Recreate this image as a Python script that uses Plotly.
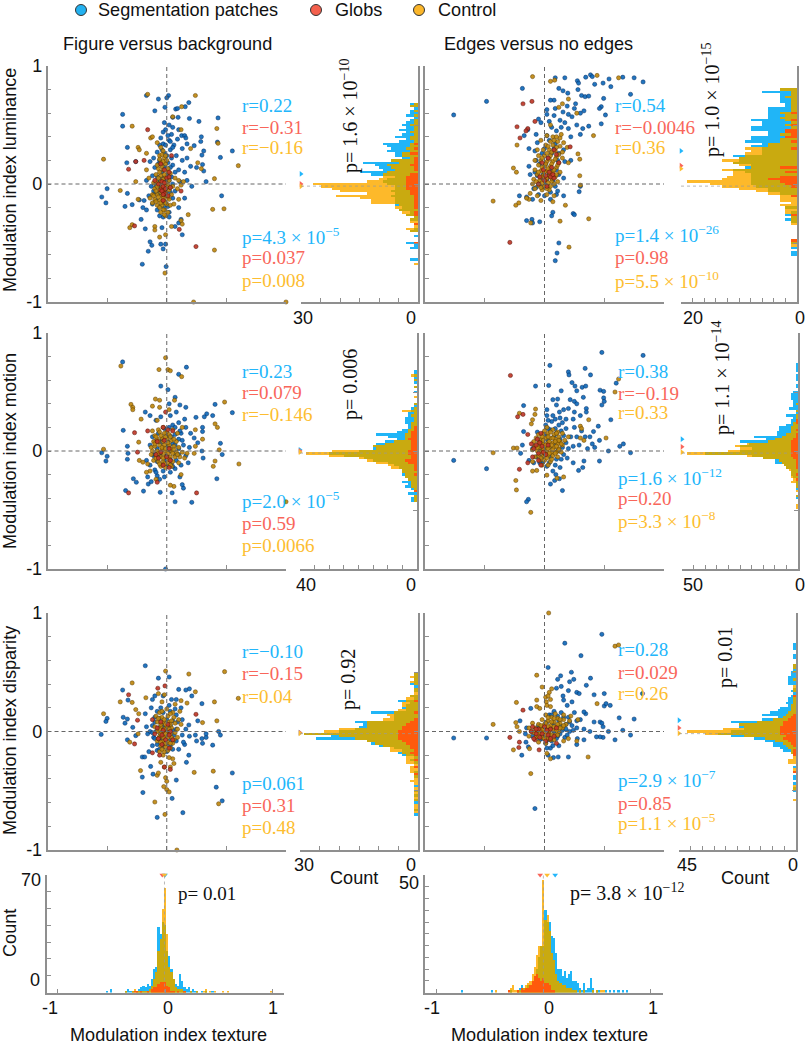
import plotly.graph_objects as go

# ---------------- labels ----------------
series_names = ["Segmentation patches", "Globs", "Control"]
row_labels = ["Modulation index luminance", "Modulation index motion", "Modulation index disparity"]
col_titles = ["Figure versus background", "Edges versus no edges"]

# ---------------- scatter values (texture index, other index) ----------------
s11_b = [(-.37,.59),(-.37,.49),(-.33,.31),(-.335,.18),(-.26,.19),(-.545,-.11),(-.50,-.04),(-.51,-.16),(-.35,-.19),(-.33,-.08),(-.29,-.175),(-.23,-.135),(-.215,-.30),(-.18,-.38),(-.155,-.57),(-.14,-.49),(-.125,-.52),(-.05,-.51),(-.03,-.55),(-.01,-.51),(-.205,-.68),(-.005,-.70),(-.17,.75),(-.07,.72),(.015,.75),(0,.73),(-.015,.65),(-.1,.62),(.075,.635),(.09,.64),(.185,.69),(.155,.655),(.19,.555),(.095,.565),(.05,.565),(.27,.53),(.43,.56),(.55,.28),(.45,.225),(.425,.355),(.29,.40),(.285,.36),(.31,.28),(.295,.245),(.30,.165),(.25,.14),(.31,.11),(.33,.02),(.23,.325),(.17,.34),(.125,.41),(.15,.41),(.16,.39),(.13,.3),(.1,.46),(.05,.48),(.02,.5),(-.02,.52),(-.01,.46),(.04,.42),(.09,.38),(.06,.33),(.02,.37),(-.03,.34),(-.06,.33),(-.08,.27),(-.11,.22),(-.14,.19),(-.1,.14),(-.06,.2),(-.02,.26),(.03,.29),(.08,.24),(.13,.2),(.17,.22),(.2,.15),(.15,.1),(.1,.12),(.05,.16),(.01,.18),(-.04,.1),(-.12,.07),(-.17,.03),(-.13,-.02),(-.1,-.08),(-.15,-.1),(-.19,-.14),(-.2,-.2),(-.17,-.22),(-.12,-.17),(-.08,-.22),(-.03,-.28),(.02,-.24),(.1,-.2),(.15,-.12),(.07,-.06),(.11,.02),(.17,.03),(.21,-.02),(.46,-.1),(.1,-.33),(.12,-.3),(.13,-.43),(.07,-.36),(-.04,-.37),(.01,.08),(-.01,.03),(.04,.06),(-.06,.02),(-.03,-.1)]
s11_b_core = [(-.03,.44),(.01,.41),(-.05,.39),(.03,.36),(-.01,.33),(.05,.31),(-.04,.29),(.0,.24),(.04,.22),(-.07,.17),(-.02,.15),(.03,.14),(.07,.1),(-.08,.06),(-.04,.05),(.02,.03),(.05,0),(-.09,-.02),(-.05,-.03),(-.01,-.07),(.03,-.07),(-.11,-.06),(-.07,-.08),(-.03,-.16),(.01,-.19),(-.09,-.14),(-.06,-.19),(-.02,-.2),(.05,-.12),(.02,-.28),(-.06,-.27)]
s11_y = [(-.53,.21),(-.29,.49),(-.16,.76),(.24,.75),(.125,.655),(.42,.47),(.43,.345),(.6,.155),(.40,.045),(.385,-.215),(.48,-.21),(.40,-.56),(-.015,-.755),(.225,-1.0),(1,-1.0),(-.31,-.37),(-.29,-.345),(-.39,-.055),(-.26,.02),(-.24,-.13),(-.24,.31),(-.23,.29),(-.17,.26),(-.135,.39),(-.12,.40),(.12,.46),(.05,.57),(.18,-.26),(.12,-.31),(.13,-.34),(.04,-.36),(-.1,-.36),(-.1,-.39),(-.01,-.43),(-.06,-.45),(.2,.3),(.26,.18),(.29,.13),(-.17,.12),(-.15,.05),(-.08,.35),(-.05,.31),(-.03,.28),(-.06,.24),(-.02,.22),(-.05,.18),(-.01,.17),(-.07,.13),(-.03,.12),(.01,.13),(-.09,.08),(-.05,.07),(-.01,.06),(.03,.09),(.07,.05),(.1,.03),(.14,.02),(.12,-.01),(-.11,.01),(-.07,.0),(-.03,.0),(.01,-.01),(.05,-.02),(.09,-.04),(-.1,-.04),(-.06,-.05),(-.02,-.05),(.02,-.05),(-.12,-.09),(-.08,-.09),(-.04,-.1),(0,-.1),(.04,-.09),(-.14,-.12),(-.1,-.13),(-.06,-.14),(-.02,-.14),(.02,-.13),(-.12,-.16),(-.08,-.18),(-.04,-.18),(0,-.17),(.03,-.18),(-.02,-.22),(.01,-.24),(-.01,-.27),(.06,-.17),(.1,-.13)]
s11_y_core = [(-.04,.25),(-.01,.24),(-.06,.21),(-.03,.19),(.0,.2),(-.08,.16),(-.04,.15),(.01,.1),(-.06,.1),(-.02,.08),(-.07,.05),(-.03,.04),(.02,.03),(-.09,.02),(-.05,.02),(-.01,.01),(-.08,-.02),(-.04,-.03),(0,-.03),(.03,-.03),(-.09,-.06),(-.05,-.07),(-.01,-.08),(-.11,-.1),(-.07,-.11),(-.03,-.12),(.01,-.11),(-.09,-.15),(-.05,-.16),(-.01,-.16),(-.06,-.2),(-.03,-.22),(-.05,-.24),(-.02,-.26)]
s11_r = [(-.32,.125),(-.26,.19),(-.19,.20),(-.16,.46),(-.27,-.355),(.105,-.385),(.245,-.53),(0,.05),(-.03,-.02),(.02,.06),(-.05,-.05),(-.02,-.08),(.01,-.1),(-.03,-.14),(.03,-.03),(.12,-.06),(-.1,.03),(-.07,0),(.02,.1),(-.02,.12),(-.05,.17),(.04,.24),(-.04,.02),(-.02,.01),(-.04,-.06),(-.03,-.09),(-.01,-.04)]

s21_b = [(-.37,.755),(.165,.71),(.10,.65),(-.05,.55),(.01,.52),(.07,.455),(.405,.395),(.55,.325),(.385,.30),(.335,.315),(.315,.29),(.245,.285),(-.365,.175),(-.33,.04),(-.545,-.015),(-.50,-.045),(-.51,-.085),(-.325,-.02),(-.33,-.07),(-.28,-.235),(-.255,-.265),(-.345,-.335),(-.195,-.34),(-.155,-.28),(-.055,-.35),(.07,-.43),(.21,-.435),(.045,-.355),(.14,-.315),(.13,-.285),(.42,-.235),(.465,-.03),(.45,.065),(.295,0),(.305,-.06),(.30,.20),(.30,.165),(.23,.11),(.26,.07),(-.01,-1.0),(-.18,.33),(-.14,.3),(-.09,.26),(-.05,.29),(.02,.4),(.11,.39),(.16,.37),(.08,.33),(.03,.3),(.15,.27),(.1,.24),(.05,.22),(-.02,.19),(.16,.2),(.2,.15),(.12,.15),(.07,.14),(.02,.13),(-.04,.1),(-.12,.12),(-.14,.05),(-.11,-.04),(-.17,-.08),(-.14,-.12),(-.1,-.16),(-.08,-.21),(-.06,-.24),(-.02,-.22),(.03,-.18),(.07,-.15),(.12,-.12),(.18,-.1),(.16,-.04),(.1,-.03),(.05,.06),(.14,.05),(.19,.03),(.01,.04),(-.05,-.02),(-.02,-.08),(.04,-.1),(-.13,-.26),(-.16,-.22),(.11,-.22)]
s21_b_core = [(.02,.2),(.07,.2),(.11,.17),(-.07,.15),(-.01,.14),(.04,.12),(.1,.1),(.13,.09),(-.1,.08),(-.05,.07),(.01,.08),(.07,.05),(.1,.02),(-.08,.02),(-.03,.03),(.03,0),(.07,-.03),(-.1,-.03),(-.06,-.05),(0,-.04),(.03,-.07),(.08,-.08),(-.08,-.09),(-.04,-.12),(.01,-.13),(.05,-.13),(-.09,-.18),(-.03,-.17)]
s21_y = [(-.385,.72),(-.01,.79),(-.065,.69),(.01,.69),(.03,.68),(.125,.63),(.485,.415),(-.30,.395),(-.285,.37),(-.285,.35),(-.095,.44),(-.06,.43),(.065,.43),(.405,.23),(.425,.20),(-.215,.27),(-.235,.075),(-.53,.015),(.605,-.11),(.405,-.085),(.39,-.13),(.44,.01),(1.0,-.43),(-.23,-.08),(-.2,-.095),(-.06,.37),(-.12,.38),(.02,.35),(-.08,.26),(.24,.18),(.3,.1),(.23,-.02),(.24,.04),(.13,.2),(.12,-.2),(.06,-.3),(.03,-.29),(-.09,-.24),(-.14,-.17),(-.17,-.18),(-.12,.17),(-.1,.13),(-.07,.18),(-.03,.2),(0,.16),(.05,.18),(.09,.15),(-.11,.08),(-.08,.1),(-.04,.11),(0,.1),(.04,.09),(.08,.08),(-.13,.03),(-.1,.04),(-.06,.05),(-.02,.05),(.02,.05),(.06,.04),(.1,.03),(-.12,0),(-.08,0),(-.04,.01),(0,0),(.04,0),(.08,-.01),(.13,-.01),(.17,-.02),(-.13,-.03),(-.09,-.04),(-.05,-.05),(-.01,-.05),(.03,-.05),(.07,-.05),(.11,-.05),(.15,-.06),(-.11,-.08),(-.07,-.09),(-.03,-.09),(.01,-.1),(.05,-.09),(-.05,-.13),(-.01,-.14),(.1,-.1),(.04,-.13),(-.16,-.11)]
s21_y_core = [(-.06,.16),(-.02,.15),(.02,.14),(-.09,.12),(-.05,.13),(-.01,.12),(.03,.12),(.06,.1),(-.07,.08),(-.03,.08),(.01,.07),(-.1,.06),(-.04,.03),(-.01,.02),(.03,.02),(.06,.01),(-.07,-.02),(-.03,-.02),(.01,-.02),(.05,-.02),(.09,-.03),(-.09,-.06),(-.03,-.06),(.02,-.07),(-.06,-.11),(-.02,-.11),(.03,-.12)]
s21_r = [(-.27,.155),(-.16,.17),(-.32,-.355),(.25,-.355),(-.245,-.01),(-.08,-.265),(-.01,.33),(-.03,.2),(.01,.18),(.05,.17),(-.08,.08),(-.02,.09),(.02,.02),(-.05,-.01),(-.09,-.03),(0,-.05),(.03,-.08),(-.03,-.12),(.02,-.14),(-.07,-.06)]

s31_b = [(-.18,.555),(-.07,.45),(.02,.46),(-.37,.35),(-.325,.265),(-.50,.11),(-.51,.085),(-.365,.12),(-.35,.07),(-.33,.105),(-.285,.035),(-.55,-.025),(-.33,-.07),(-.26,-.035),(-.205,-.215),(-.185,-.215),(-.135,-.295),(-.115,-.36),(-.205,-.385),(-.20,-.515),(-.08,-.725),(.045,-.565),(.135,-.685),(.08,-.41),(.415,-.47),(.465,-.585),(.55,-.35),(.385,-.115),(.45,-.03),(.435,0),(.33,-.05),(.295,-.06),(.295,.235),(.19,.36),(.16,.35),(.10,.355),(.21,.30),(.185,.055),(.26,.09),(.165,-.26),(.185,-.20),(.15,-.11),(-.1,.3),(-.13,.2),(-.18,.15),(-.12,.27),(-.03,.3),(.04,.27),(.08,.27),(.12,.2),(.07,.19),(.02,.22),(-.05,.2),(.13,.1),(.09,.08),(.16,.02),(.24,-.03),(.25,-.08),(.3,-.1),(.33,-.02),(.19,-.04),(.13,-.03),(.14,-.09),(.08,-.08),(.1,-.15),(.05,-.15),(-.01,-.11),(-.06,-.07),(-.11,-.05),(-.16,-.02),(-.17,.04),(-.1,.08),(-.04,.06),(.03,.05),(-.12,-.12),(-.15,-.17),(-.08,-.16),(.05,.01),(-.02,.01),(-.09,.0),(-.14,.0)]
s31_b_core = [(-.08,.17),(-.03,.16),(.03,.17),(.08,.14),(-.1,.12),(-.06,.11),(0,.1),(.05,.09),(-.12,.05),(-.07,.03),(-.02,.03),(.02,.02),(.08,.02),(-.12,-.01),(-.05,-.02),(.01,-.02),(.06,-.03),(-.1,-.06),(-.04,-.06),(.03,-.07),(-.08,-.11),(-.03,-.13),(.03,-.12),(-.06,-.15),(0,-.17)]
s31_y = [(-.01,.51),(.185,.485),(.485,.505),(-.29,.41),(-.39,.25),(-.29,.245),(-.175,.285),(-.26,.185),(-.235,.15),(-.53,.15),(.40,.25),(.24,.335),(.60,.28),(.42,.09),(.30,.075),(.23,-.345),(.39,-.335),(.435,-.61),(-.10,-.595),(-.015,-.70),(.085,-1.0),(-.025,-.465),(0,-.49),(.02,-.51),(-.22,-.33),(-.31,-.09),(-.24,-.02),(-.08,-.37),(-.07,-.35),(0,-.42),(-.01,-.39),(-.02,-.3),(.03,-.3),(.06,-.27),(-.05,-.26),(.05,-.23),(.02,-.22),(-.03,-.2),(-.07,.32),(-.02,.31),(.12,.26),(.17,.24),(.07,.23),(-.04,.25),(.11,.17),(.05,.16),(0,.19),(-.06,.16),(-.09,.13),(-.04,.12),(.01,.13),(.06,.12),(.1,.1),(-.08,.08),(-.03,.08),(.02,.08),(.07,.07),(.12,.06),(-.1,.04),(-.05,.04),(0,.04),(.04,.03),(.09,.02),(-.08,0),(-.03,0),(.02,0),(.07,-.01),(-.06,-.04),(-.01,-.04),(.04,-.05),(.09,-.05),(-.08,-.08),(-.03,-.08),(.01,-.09),(.05,-.1),(-.05,-.12),(-.01,-.13),(.03,-.14),(-.06,-.17),(-.02,-.17)]
s31_y_core = [(-.04,.17),(.03,.15),(-.07,.11),(-.02,.1),(.04,.09),(-.05,.06),(-.01,.06),(.03,.06),(-.06,.02),(-.02,.02),(.02,.02),(-.05,-.02),(-.01,-.02),(.03,-.02),(-.07,-.06),(-.03,-.05),(.01,-.05),(.06,-.07),(-.05,-.09),(-.01,-.1),(.03,-.1),(-.04,-.15),(.01,-.16)]
s31_r = [(-.32,.31),(-.245,.095),(-.075,.365),(-.015,.385),(-.27,-.105),(.245,.145),(-.12,.1),(-.05,.08),(.01,.06),(-.08,.03),(-.03,.01),(.03,.0),(-.1,-.02),(-.04,-.03),(.02,-.03),(-.07,-.06),(-.01,-.07),(.05,-.07),(-.04,-.11),(-.12,-.18),(-.06,-.2),(.02,-.14),(-.02,-.3),(.03,-.32)]

s12_b = [(-.76,.585),(-.485,.70),(-.185,.81),(.09,.90),(.17,.90),(.275,.875),(.285,.855),(.345,.905),(.385,.925),(.40,.91),(.54,.89),(.655,.905),(.75,.90),(.825,.865),(.49,.855),(.555,.825),(.42,.845),(.72,.76),(.12,.81),(.155,.79),(.195,.77),(.28,.80),(.31,.75),(.34,.74),(.37,.745),(.495,.725),(.475,.655),(.46,.64),(.475,.51),(.51,.585),(.33,.62),(.3,.60),(.26,.68),(.25,.64),(.09,.64),(.08,.71),(.05,.71),(.19,.66),(.2,.59),(.155,.61),(.13,.54),(.08,.58),(.02,.63),(.02,.59),(.04,.53),(.17,.52),(.23,.57),(.27,.5),(.32,.47),(.37,.49),(.3,.42),(.22,.4),(.2,.47),(.14,.48),(.1,.45),(.06,.48),(-.03,.52),(-.05,.55),(-.07,.42),(-.14,.46),(-.17,.41),(.29,-.065),(.24,-.25),(.25,-.26),(.07,-.24),(.06,-.27),(-.15,-.31),(-.105,-.3),(-.1,-.33),(-.04,-.32),(.12,-.5),(.105,-.585),(.09,-.65),(-.21,-.1),(-.15,-.11),(-.1,-.13),(.05,-.13),(.1,-.09),(.16,-.1),(.3,-.02),(-.13,.3),(-.08,.28),(-.06,.35),(.02,.41),(.09,.34),(.16,.29),(.22,.2),(.17,.19),(.12,.26),(.03,.22),(-.07,.2),(-.13,.15),(-.12,.08),(-.08,.1),(-.03,.05),(.04,.08),(.12,.08),(.16,.05),(-.09,-.04),(-.02,-.03),(.03,-.02),(.09,-.02)]
s12_b_core = [(.04,.37),(.0,.3),(.08,.3),(-.02,.26),(.06,.26),(.11,.2),(-.04,.17),(.01,.17),(.05,.13),(.1,.12),(-.06,.07),(-.01,.08),(.02,.04),(.07,.03),(-.04,.0),(.01,-.01),(-.07,-.03),(.05,-.07),(-.05,-.09),(0,-.1),(.11,-.06)]
s12_y = [(-.1,.91),(.05,.87),(.085,.88),(.44,.92),(.62,.90),(-.23,.33),(-.26,.135),(-.235,.10),(-.43,-.145),(-.24,-.18),(-.215,-.16),(-.115,-.33),(.13,-.315),(.205,-.535),(.37,-.295),(.175,-.18),(.295,.07),(.3,-.01),(.41,.41),(.28,.255),(.295,.21),(.12,.65),(.15,.68),(.2,.72),(.27,.6),(.05,.5),(.13,.39),(.07,.4),(.02,.41),(.14,.42),(.1,.4),(-.03,.37),(.05,.36),(.11,.36),(.16,.35),(.01,.33),(.07,.33),(.13,.32),(.19,.31),(-.06,.29),(-.01,.29),(.04,.29),(.09,.28),(.15,.27),(-.05,.24),(0,.24),(.05,.24),(.1,.23),(.15,.22),(-.08,.2),(-.03,.2),(.02,.19),(.07,.19),(.12,.18),(.2,.18),(-.05,.16),(0,.15),(.05,.15),(.1,.14),(-.08,.12),(-.03,.11),(.02,.11),(.07,.1),(.13,.1),(-.06,.08),(-.01,.07),(.04,.07),(.09,.06),(-.09,.04),(-.04,.03),(.01,.03),(.06,.02),(.11,.02),(-.1,0),(-.05,-.01),(0,-.02),(.05,-.02),(-.08,-.04),(-.02,-.05),(.04,-.05),(-.12,-.08),(-.06,-.1),(.02,-.09),(.08,-.1),(-.03,-.14),(.07,-.15),(-.13,-.13),(-.15,-.12)]
s12_y_core = [(.08,.37),(.03,.32),(.1,.31),(.06,.27),(.02,.26),(.12,.25),(-.02,.22),(.04,.21),(.09,.21),(.01,.17),(.06,.17),(.11,.16),(-.02,.14),(.03,.13),(.08,.12),(-.05,.1),(0,.1),(.05,.09),(.1,.08),(-.03,.06),(.02,.05),(.06,.05),(-.07,.02),(-.02,.01),(.03,.01),(.08,0),(-.03,-.03),(.02,-.04)]
s12_r = [(-.18,.68),(-.105,.70),(-.23,.485),(-.205,.39),(-.14,.47),(-.155,.45),(-.08,.53),(-.29,-.495),(.215,.315),(.12,.18),(.08,.29),(.03,.22),(.06,.14),(-.01,.12),(.05,.06),(.0,.03),(-.04,.06),(.02,-.02),(.08,.05),(-.05,0),(.1,.25),(-.02,.18),(.04,.1),(.07,.08),(.01,.07)]

s22_b = [(-.76,-.08),(-.485,-.15),(.48,.835),(.825,.81),(.045,.725),(.2,.67),(.205,.645),(.34,.70),(.385,.645),(.23,.58),(-.075,.55),(.035,.555),(.255,.55),(.315,.54),(.345,.55),(.14,.51),(.27,.51),(.465,.515),(.495,.505),(.495,.45),(.5,.42),(.48,.39),(.6,.575),(.325,.455),(.215,.435),(.25,.42),(.27,.40),(.11,.44),(.07,.435),(-.175,.385),(.1,.39),(.16,.35),(.125,.33),(.02,.35),(.555,.265),(.45,.21),(.41,.165),(.38,.12),(.34,.12),(.46,.09),(.63,.04),(.66,.06),(.535,0),(.72,-.015),(.46,-.085),(.33,-.085),(.32,-.14),(.285,-.165),(.125,-.235),(.095,-.2),(.085,-.25),(.05,-.28),(.15,-.335),(-.135,-.41),(-.15,-.43),(-.175,.165),(-.185,.05),(-.2,-.02),(.35,.36),(.35,.33),(.3,.3),(.25,.33),(.2,.36),(.24,.27),(.18,.27),(.13,.28),(.07,.3),(.02,.3),(.06,.25),(.12,.22),(.18,.19),(.25,.2),(.31,.17),(.27,.12),(.22,.12),(.16,.13),(.1,.15),(.05,.18),(.01,.22),(.29,.05),(.24,.04),(.2,.02),(.42,.03),(.36,.02),(.4,.06),(.19,-.06),(.14,-.07),(.24,-.1),(.09,-.12),(.04,-.1),(-.02,-.1),(.13,-.14),(.07,-.17),(-.09,-.1),(-.13,-.08),(-.1,.02),(-.06,.16)]
s22_b_core = [(.03,.26),(.09,.27),(.15,.24),(.03,.19),(.09,.19),(.14,.17),(.02,.13),(.08,.12),(.13,.1),(.18,.07),(-.04,.09),(.03,.09),(.09,.07),(.15,.03),(-.08,.04),(-.03,.02),(.04,.03),(.11,0),(.16,-.03),(-.07,-.05),(-.02,-.05),(.05,-.05),(.1,-.07),(-.04,-.1),(.02,-.13)]
s22_y = [(-.21,.32),(-.075,.355),(-.08,.31),(-.1,.265),(-.11,.23),(-.26,.025),(-.23,.025),(-.43,-.015),(-.24,-.25),(-.235,-.33),(-.115,-.52),(.62,.61),(.59,.5),(.515,.11),(.37,.265),(.3,.21),(.31,.19),(.105,-.23),(.16,-.22),(.02,-.205),(-.1,-.17),(-.065,-.165),(.33,.09),(.3,.11),(.02,.2),(.07,.18),(.11,.16),(.15,.15),(.2,.12),(-.05,.14),(-.01,.15),(.03,.15),(.08,.14),(.12,.12),(.17,.09),(-.07,.11),(-.03,.1),(.01,.11),(.05,.11),(.09,.1),(.13,.08),(-.09,.08),(-.05,.07),(-.01,.07),(.03,.07),(.07,.07),(.11,.06),(.15,.05),(-.08,.04),(-.04,.03),(0,.03),(.04,.03),(.08,.03),(.12,.02),(-.1,.01),(-.06,0),(-.02,0),(.02,0),(.06,-.01),(.1,-.01),(.14,-.01),(-.05,-.04),(-.01,-.04),(.03,-.04),(.07,-.04),(.11,-.05),(-.08,-.05),(-.04,-.08),(0,-.08),(.05,-.09),(-.1,-.09),(-.02,-.12),(.03,-.12)]
s22_y_core = [(0,.17),(.05,.16),(.1,.15),(-.02,.12),(.03,.12),(.07,.11),(.12,.09),(-.01,.09),(.04,.08),(.09,.08),(.14,.06),(-.03,.06),(.01,.05),(.06,.05),(.1,.04),(-.06,.03),(-.01,.02),(.03,.02),(.07,.01),(.12,.01),(-.04,-.01),(0,-.02),(.04,-.02),(.09,-.02),(-.03,-.06),(.02,-.06),(.06,-.07)]
s22_r = [(-.285,.64),(-.225,.29),(-.18,.31),(-.21,-.155),(-.14,.14),(-.06,.1),(-.03,.15),(-.11,.06),(-.09,.02),(-.05,-.02),(-.02,.04),(-.1,-.05),(-.05,-.08),(-.14,-.1),(.01,-.03),(-.03,-.12),(.03,.05),(-.07,.05),(-.04,.07),(-.01,-.01)]

s32_b = [(.48,.82),(.17,.745),(.305,.64),(.03,.54),(-.76,-.055),(-.485,-.055),(-.08,-.65),(.385,.45),(.225,.50),(.245,.44),(.21,.42),(.135,.47),(.11,.44),(.35,.39),(.14,.38),(.1,.365),(.2,.345),(.155,.30),(.27,.33),(.29,.32),(.415,.31),(.5,.32),(.82,.32),(.5,.215),(.515,.235),(.55,.22),(.625,.115),(.75,.105),(.655,.01),(.72,-.03),(.59,-.07),(.535,0),(.49,-.05),(.465,-.045),(.415,.08),(.465,.08),(.48,.07),(.49,.04),(.435,-.045),(.33,-.07),(.275,-.06),(.27,-.11),(.2,-.215),(.115,-.215),(.075,-.22),(.03,-.2),(-.19,-.2),(-.135,-.13),(-.155,-.09),(-.205,.09),(-.115,.195),(.345,.15),(.33,.165),(.16,.265),(.23,.25),(.19,.22),(.25,.16),(.3,.1),(.27,.09),(.2,.12),(.14,.16),(.08,.17),(.04,.14),(.23,.05),(.18,.06),(.12,.09),(.33,.02),(.27,.03),(.21,0),(.15,.01),(.1,.04),(.38,0),(.17,-.05),(.11,-.04),(.06,-.08),(.12,-.12),(.05,-.14),(.01,-.1),(-.02,-.06),(-.1,-.04),(-.16,-.02),(-.15,.03),(-.05,.05),(.05,.03)]
s32_b_core = [(.06,.14),(.11,.13),(.16,.12),(.21,.08),(.02,.08),(.07,.07),(.13,.05),(.18,.02),(.24,.01),(-.03,.03),(.03,.01),(.08,.0),(.13,-.02),(.19,-.03),(-.07,-.02),(-.02,-.02),(.04,-.03),(.1,-.06),(.03,-.07),(-.04,-.07),(.07,-.12),(.02,-.14)]
s32_y = [(.035,1.0),(.59,.72),(.62,.73),(-.065,.475),(-.235,.245),(-.02,.375),(-.43,.06),(-.26,-.155),(-.115,-.355),(.365,-.215),(-.125,-.145),(.02,-.185),(.05,-.23),(.27,-.08),(-.065,.265),(-.065,.21),(-.04,.195),(.01,.29),(.04,.33),(.015,.25),(.06,.36),(.44,.235),(-.24,.075),(-.23,.04),(-.21,0),(.03,.3),(.05,.27),(.02,.22),(.05,.21),(.09,.15),(.16,.14),(.22,.13),(.28,.1),(.01,.14),(.06,.12),(.11,.11),(.16,.1),(.21,.09),(-.02,.1),(.03,.09),(.08,.08),(.13,.07),(.18,.06),(-.1,.07),(-.05,.06),(0,.06),(.05,.05),(.1,.04),(.15,.03),(-.13,.03),(-.08,.03),(-.03,.02),(.02,.02),(.07,.01),(.12,0),(-.11,0),(-.06,-.01),(-.01,-.01),(.04,-.02),(.09,-.03),(-.13,-.04),(-.07,-.05),(-.02,-.05),(.03,-.06),(.08,-.07),(-.05,-.09),(.01,-.1),(.16,-.08),(.2,-.06)]
s32_y_core = [(.03,.12),(.08,.11),(.13,.1),(.01,.07),(.06,.08),(.11,.06),(.16,.05),(-.03,.05),(.03,.04),(.08,.04),(.13,.03),(-.06,.01),(-.01,.02),(.04,.01),(.1,.01),(-.09,-.01),(-.04,-.02),(.01,-.03),(.06,-.03),(.11,-.03),(-.05,-.04),(0,-.06),(.05,-.07)]
s32_r = [(-.29,-.05),(-.215,-.135),(-.21,-.09),(-.18,.18),(-.045,-.155),(-.08,-.07),(-.09,-.06),(-.1,.04),(-.05,.02),(0,.04),(.05,.02),(.1,.03),(-.07,-.02),(-.02,-.02),(.03,-.03),(.08,-.04),(.01,-.08),(.1,-.1),(-.11,.0),(-.07,.02),(-.04,-.05),(.05,-.06),(.02,.01)]

# ---------------- side histograms, bin centre : count ----------------
h11_b = {.68:2,.66:2,.64:1,.62:2,.60:2,.58:3,.56:1,.54:2,.52:3,.50:4,.48:3,.46:5,.44:3,.42:4,.40:6,.38:3,.36:5,.34:9,.32:8,.30:7,.28:8,.26:6,.24:6,.22:4,.20:7,.18:14,.16:11,.14:10,.12:9,.10:15,.08:12,.06:6,.04:8,.02:9,0:8,-.02:6,-.04:6,-.06:7,-.08:6,-.10:7,-.12:6,-.14:6,-.16:6,-.18:6,-.20:4,-.22:5,-.24:2,-.26:3,-.28:1,-.30:2,-.34:1,-.38:1,-.40:2,-.44:1,-.50:3,-.52:1,-.54:2,-.64:2}
h11_y = {.68:1,.66:2,.62:1,.58:1,.54:1,.52:1,.50:2,.48:1,.46:1,.44:2,.42:1,.40:2,.38:2,.36:1,.34:2,.32:2,.30:3,.28:2,.26:4,.24:4,.22:2,.20:7,.18:5,.16:8,.14:7,.12:6,.10:8,.08:9,.06:9,.04:10,.02:13,0:27,-.02:25,-.04:22,-.06:20,-.08:13,-.10:21,-.12:15,-.14:12,-.16:12,-.18:5,-.20:6,-.22:5,-.24:4,-.26:3,-.28:1,-.30:2,-.32:2,-.34:1,-.36:1,-.38:3,-.40:2,-.50:1,-.68:1}
h11_r = {.34:1,.30:1,.26:2,.22:1,.20:1,.18:1,.16:2,.14:1,.12:1,.08:2,.06:3,.04:3,.02:3,0:3,-.02:3,-.04:3,-.06:2,-.08:2,-.10:1,-.12:1,-.14:1,-.16:1,-.18:1,-.20:1,-.24:1,-.26:1,-.34:1,-.50:1}

h12_b = {.80:3,.78:6,.76:3,.74:3,.72:3,.70:3,.68:2,.66:2,.64:5,.62:5,.60:5,.58:5,.56:5,.54:8,.52:6,.50:6,.48:8,.46:8,.44:5,.42:5,.40:8,.38:8,.36:9,.34:6,.32:8,.30:6,.28:6,.26:6,.24:11,.22:10,.20:10,.18:11,.16:8,.14:9,.12:11,.10:9,.08:8,.06:8,.04:8,.02:8,0:8,-.02:7,-.04:5,-.06:5,-.08:3,-.20:2,-.24:1,-.26:2,-.28:1,-.30:2,-.32:1,-.48:1,-.50:1,-.54:1,-.58:1,-.60:1}
h12_y = {.80:3,.78:1,.76:1,.74:2,.72:1,.70:1,.68:1,.66:1,.64:1,.62:1,.60:3,.58:2,.56:3,.54:2,.52:1,.50:2,.48:1,.46:1,.44:2,.42:3,.40:2,.38:3,.36:3,.34:5,.32:5,.30:9,.28:8,.26:9,.24:9,.22:10,.20:13,.18:11,.16:10,.14:8,.12:13,.10:11,.08:11,.06:12,.04:13,.02:19,0:15,-.02:13,-.04:10,-.06:7,-.08:5,-.10:3,-.12:3,-.14:3,-.16:1,-.18:3,-.20:2,-.22:2,-.24:2,-.26:1,-.28:1,-.30:1,-.32:1,-.34:1,-.50:1,-.52:1}
h12_r = {.60:1,.54:1,.50:1,.46:2,.44:2,.42:1,.40:2,.36:1,.30:1,.14:3,.10:2,.06:3,.04:5,.02:3,0:2,-.02:1,-.10:1,-.26:1,-.48:1}

h21_b = {.68:1,.66:1,.64:1,.62:1,.60:1,.58:1,.54:1,.50:1,.40:1,.38:1,.36:2,.34:2,.32:3,.30:3,.28:4,.26:4,.24:4,.22:3,.20:3,.18:5,.16:7,.14:14,.12:10,.10:7,.08:11,.06:14,.04:15,.02:15,0:20,-.02:30,-.04:25,-.06:18,-.08:15,-.10:10,-.12:8,-.14:6,-.16:5,-.18:5,-.20:5,-.22:4,-.24:3,-.26:5,-.28:3,-.30:4,-.32:2,-.34:1,-.36:3,-.38:1,-.40:2,-.42:2}
h21_y = {.64:2,.60:1,.54:1,.46:1,.40:1,.36:1,.34:5,.32:1,.30:2,.28:1,.26:1,.24:2,.22:2,.20:2,.18:3,.16:3,.14:4,.12:4,.10:4,.08:8,.06:11,.04:15,.02:14,0:29,-.02:38,-.04:30,-.06:20,-.08:17,-.10:14,-.12:10,-.14:9,-.16:5,-.18:5,-.20:4,-.22:4,-.24:3,-.26:2,-.28:2,-.30:2,-.32:1,-.34:1,-.38:1,-.40:1,-.42:1}
h21_r = {.20:1,.18:1,.16:2,.14:2,.12:2,.10:3,.08:2,.06:2,.04:2,.02:2,0:3,-.02:3,-.04:2,-.06:2,-.08:4,-.10:3,-.12:1,-.14:1,-.16:1,-.20:1,-.34:1}

h22_b = {.74:1,.72:1,.70:1,.68:1,.64:1,.62:1,.60:1,.56:1,.54:1,.50:2,.48:3,.46:3,.44:3,.42:2,.40:2,.38:2,.36:4,.34:1,.32:1,.30:5,.28:2,.26:3,.24:3,.22:5,.20:8,.18:8,.16:9,.14:9,.12:19,.10:14,.08:25,.06:21,.04:25,.02:20,0:25,-.02:40,-.04:20,-.06:15,-.08:10,-.10:10,-.12:6,-.14:5,-.16:3,-.18:3,-.20:3,-.22:2,-.26:1,-.28:1,-.30:1,-.32:1,-.38:1,-.40:1}
h22_y = {.40:1,.34:1,.30:1,.28:1,.26:1,.24:2,.22:2,.20:3,.18:3,.16:3,.14:5,.12:7,.10:10,.08:13,.06:22,.04:27,.02:25,0:30,-.02:48,-.04:22,-.06:15,-.08:8,-.10:7,-.12:6,-.14:5,-.16:4,-.18:3,-.20:3,-.22:3,-.24:2,-.26:3,-.28:1,-.30:1,-.34:1,-.38:1,-.46:1,-.48:1}
h22_r = {.26:1,.24:1,.18:1,.14:1,.12:1,.10:2,.08:3,.06:3,.04:3,.02:3,0:3,-.02:3,-.04:3,-.06:2,-.08:1,-.10:1,-.12:1,-.14:1,-.20:1,-.24:1}

h31_b = {.48:1,.46:1,.44:1,.42:1,.40:2,.38:1,.36:1,.34:1,.30:2,.28:1,.26:5,.24:2,.22:3,.20:4,.18:3,.16:12,.14:6,.12:6,.10:6,.08:16,.06:14,.04:15,.02:16,0:20,-.02:29,-.04:22,-.06:26,-.08:13,-.10:12,-.12:10,-.14:6,-.16:4,-.18:5,-.20:4,-.22:1,-.24:2,-.26:1,-.30:1,-.34:1,-.38:1,-.46:1,-.50:1,-.54:1,-.58:1,-.60:1,-.66:1,-.70:1}
h31_y = {.48:1,.46:2,.44:1,.42:2,.40:1,.36:1,.34:1,.32:1,.30:2,.28:3,.26:3,.24:4,.22:4,.20:3,.18:5,.16:6,.14:8,.12:7,.10:9,.08:13,.06:13,.04:13,.02:20,0:24,-.02:29,-.04:20,-.06:16,-.08:13,-.10:11,-.12:9,-.14:7,-.16:7,-.18:4,-.20:3,-.22:3,-.24:3,-.26:3,-.28:1,-.30:2,-.32:2,-.34:2,-.36:1,-.38:1,-.40:1,-.42:2,-.44:1,-.48:1,-.50:1,-.52:1,-.54:1,-.56:1,-.58:1,-.62:1,-.64:1,-.66:1,-.68:1}
h31_r = {.26:1,.16:1,.10:1,.08:2,.06:3,.04:4,.02:4,0:5,-.02:5,-.04:5,-.06:5,-.08:4,-.10:3,-.12:2,-.14:2,-.16:1,-.18:2,-.20:1,-.24:1,-.30:1,-.36:1}

h32_b = {.74:1,.72:1,.70:1,.64:1,.62:1,.56:1,.54:1,.52:1,.50:2,.48:2,.46:3,.44:3,.42:3,.40:3,.36:1,.34:2,.32:1,.30:2,.28:3,.26:3,.24:4,.22:3,.20:6,.18:7,.16:10,.14:13,.12:7,.10:13,.08:25,.06:22,.04:22,.02:20,0:25,-.02:30,-.04:25,-.06:16,-.08:12,-.10:9,-.12:9,-.14:6,-.16:5,-.18:2,-.20:1,-.30:1,-.34:1,-.38:1,-.40:1,-.44:1,-.48:1,-.50:1}
h32_y = {.56:1,.54:1,.50:1,.44:1,.38:1,.36:1,.34:1,.30:1,.28:1,.26:1,.24:1,.22:2,.20:2,.18:2,.16:3,.14:4,.12:5,.10:9,.08:15,.06:22,.04:20,.02:28,0:42,-.02:35,-.04:20,-.06:12,-.08:8,-.10:5,-.12:4,-.14:3,-.16:2,-.18:2,-.20:1,-.22:1,-.24:3,-.26:3,-.32:1,-.34:1,-.46:1,-.48:1,-.58:1}
h32_r = {.30:1,.14:1,.12:2,.10:3,.08:5,.06:5,.04:6,.02:6,0:6,-.02:6,-.04:4,-.06:5,-.08:3,-.10:2,-.12:1,-.16:1,-.18:1,-.20:1,-.34:1}

# ---------------- bottom histograms, bin centre : count ----------------
t1_b = {-.54:1,-.50:2,-.36:1,-.34:2,-.32:1,-.30:1,-.26:1,-.24:2,-.22:3,-.20:4,-.18:3,-.16:5,-.14:4,-.12:8,-.10:14,-.08:15,-.06:39,-.04:35,-.02:42,0:40,.02:25,.04:22,.06:14,.08:8,.10:5,.12:4,.14:11,.16:7,.18:3,.20:2,.22:3,.24:1,.26:2,.28:1,.30:1,.34:1,.38:1,.44:1}
t1_y = {-.36:1,-.30:1,-.28:2,-.26:1,-.24:1,-.22:1,-.20:1,-.18:1,-.16:1,-.14:2,-.12:4,-.10:8,-.08:12,-.06:25,-.04:32,-.02:50,0:62,.02:35,.04:15,.06:12,.08:8,.10:3,.12:2,.14:2,.16:2,.18:1,.24:1,.30:1,.36:1,.38:2,.42:1,.46:1,.54:1,.58:1,.98:1}
t1_r = {-.28:1,-.26:1,-.22:1,-.16:1,-.12:2,-.10:3,-.08:3,-.06:5,-.04:6,-.02:6,0:6,.02:4,.04:3,.06:1,.08:1,.12:1,.18:1}

t2_b = {-.76:1,-.48:1,-.30:1,-.24:1,-.22:2,-.20:3,-.18:2,-.16:2,-.14:3,-.12:3,-.10:4,-.08:6,-.06:10,-.04:15,-.02:20,0:20,.02:35,.04:30,.06:30,.08:24,.10:23,.12:17,.14:10,.16:10,.18:7,.20:9,.22:6,.24:8,.26:9,.28:5,.30:5,.32:4,.34:2,.36:1,.38:4,.40:1,.42:2,.44:6,.46:2,.50:1,.52:1,.58:1,.62:1,.66:1,.70:1,.74:1,.78:1}
t2_y = {-.44:1,-.30:2,-.28:3,-.26:1,-.24:1,-.22:1,-.20:2,-.18:2,-.16:3,-.14:4,-.12:5,-.10:8,-.08:11,-.06:16,-.04:20,-.02:20,0:48,.02:31,.04:33,.06:26,.08:17,.10:14,.12:8,.14:5,.16:4,.18:3,.20:3,.22:2,.24:2,.26:2,.28:1,.30:1,.34:1,.38:1,.46:1,.50:1,.54:1,.56:1}
t2_r = {-.32:1,-.24:1,-.20:2,-.18:1,-.16:2,-.14:2,-.12:3,-.10:5,-.08:7,-.06:8,-.04:6,-.02:5,0:6,.02:4,.04:4,.06:3,.08:1,.10:1}

# means shown as small triangles: [segmentation, globs, control]
side_means = {"h11":[.085,0,-.02],"h12":[.28,.155,.13],"h21":[.01,0,-.01],"h22":[.10,.035,-.01],"h31":[-.01,-.01,-.015],"h32":[.095,.03,-.015]}
top_means = {"t1":[0,-.025,-.006],"t2":[.11,-.03,.035]}
side_peak_line = -.018
top_peak_line = {"t1":-.005,"t2":0}

# histogram axis limits and tick step
side_limits = {"h11":(30,5),"h12":(20,2),"h21":(40,5),"h22":(50,5),"h31":(30,5),"h32":(45,4.5)}

# annotation texts: (r lines), (p lines), side p
r_text = {"11":["r=0.22","r=\u22120.31","r=\u22120.16"],"12":["r=0.54","r=\u22120.0046","r=0.36"],
          "21":["r=0.23","r=0.079","r=\u22120.146"],"22":["r=0.38","r=\u22120.19","r=0.33"],
          "31":["r=\u22120.10","r=\u22120.15","r=0.04"],"32":["r=0.28","r=0.029","r=0.26"]}
p_text = {"11":["p=4.3 \u00d7 10<sup>\u22125</sup>","p=0.037","p=0.008"],
          "12":["p=1.4 \u00d7 10<sup>\u221226</sup>","p=0.98","p=5.5 \u00d7 10<sup>\u221210</sup>"],
          "21":["p=2.0 \u00d7 10<sup>\u22125</sup>","p=0.59","p=0.0066"],
          "22":["p=1.6 \u00d7 10<sup>\u221212</sup>","p=0.20","p=3.3 \u00d7 10<sup>\u22128</sup>"],
          "31":["p=0.061","p=0.31","p=0.48"],
          "32":["p=2.9 \u00d7 10<sup>\u22127</sup>","p=0.85","p=1.1 \u00d7 10<sup>\u22125</sup>"]}
side_p = {"11":"p= 1.6 \u00d7 10<sup>\u221210</sup>","12":"p= 1.0 \u00d7 10<sup>\u221215</sup>","21":"p= 0.006",
          "22":"p= 1.1 \u00d7 10<sup>\u221214</sup>","31":"p= 0.92","32":"p= 0.01"}

# ---------------- styling / layout constants ----------------
W, H = 805, 1047
SANS = "Liberation Sans"
SERIF = "Liberation Serif"
C_TXT = ["#22b6fb", "#f9665a", "#fdbd30"]
C_BAR = {"b": "#20b5f7", "y": "#fdb92a", "o": "#c9aa10", "r": "#ff5a0c"}
C_PT = [("rgba(15,105,185,.92)", "rgba(0,40,95,.8)"), ("rgba(190,55,40,.92)", "rgba(80,15,5,.8)"), ("rgba(190,135,15,.92)", "rgba(90,60,0,.8)")]
C_AX = "#8f8f8f"
ROWS = [(66, 302), (333, 569), (613, 850)]
SC_X = [(47.5, 286), (425, 664)]
HI_X = [[(301, 418), (681, 797)], [(300, 417), (682, 798)], [(300, 418), (679, 796)]]
BOT_Y = (875, 992.5)
BOT_X = [(47, 284), (425, 663)]
BOT_RANGE = [(-1.093, 1.102), (-1.103, 1.115)]
TITLE_SIZE = 18.1

fig = go.Figure()
layout = dict(width=W, height=H, margin=dict(l=0, r=0, t=0, b=0, autoexpand=False), paper_bgcolor="white", plot_bgcolor="rgba(0,0,0,0)",
              showlegend=False, barmode="overlay", bargap=0, font=dict(family=SANS, color="#111"))
annots, shapes = [], []
ax_n = [0]

def dom_x(a): return [a[0] / W, a[1] / W]
def dom_y(a): return [1 - a[1] / H, 1 - a[0] / H]

def new_axes(xpx, ypx, xcfg, ycfg):
    ax_n[0] += 1
    n = ax_n[0]
    sx = "" if n == 1 else str(n)
    layout["xaxis" + sx] = dict(domain=dom_x(xpx), anchor="y" + sx, **xcfg)
    layout["yaxis" + sx] = dict(domain=dom_y(ypx), anchor="x" + sx, **ycfg)
    return "x" + sx, "y" + sx

AXBASE = dict(showgrid=False, zeroline=False, showline=True, linecolor=C_AX, linewidth=1.5, ticks="inside",
              ticklen=4, tickcolor=C_AX, tickwidth=1, tickfont=dict(family=SANS, size=18, color="#111"))

def minor_ticks(vals):
    return dict(tickvals=vals, ticks="inside", ticklen=4, tickcolor=C_AX, tickwidth=1, showgrid=False)

def txt(x, y, s, color="#111", size=17, fam=SANS, angle=0, anchor="left"):
    annots.append(dict(x=x / W, y=1 - y / H, xref="paper", yref="paper", text=s, showarrow=False, xanchor=anchor,
                       yanchor="middle", textangle=angle, font=dict(family=fam, size=size, color=color)))

def overlap(b, y):
    """Overlap of blue and yellow bars is shown in the olive blend colour."""
    keys = [k for k in b if k in y]
    return keys, [min(b[k], y[k]) for k in keys]

def add_hist(b, y, r, xa, ya, horizontal):
    keys, ov = overlap(b, y)
    sets = [(list(b.keys()), list(b.values()), C_BAR["b"]), (list(y.keys()), list(y.values()), C_BAR["y"]),
            (keys, ov, C_BAR["o"]), (list(r.keys()), list(r.values()), C_BAR["r"])]
    for pos, cnt, col in sets:
        kw = dict(x=cnt, y=pos, orientation="h") if horizontal else dict(x=pos, y=cnt)
        fig.add_trace(go.Bar(width=.02, marker=dict(color=col, line=dict(width=0)), xaxis=xa, yaxis=ya, **kw))

scatters = {"11": (s11_b + s11_b_core, s11_r, s11_y + s11_y_core), "12": (s12_b + s12_b_core, s12_r, s12_y + s12_y_core),
            "21": (s21_b + s21_b_core, s21_r, s21_y + s21_y_core), "22": (s22_b + s22_b_core, s22_r, s22_y + s22_y_core),
            "31": (s31_b + s31_b_core, s31_r, s31_y + s31_y_core), "32": (s32_b + s32_b_core, s32_r, s32_y + s32_y_core)}
hists = {"11": (h11_b, h11_y, h11_r), "12": (h12_b, h12_y, h12_r), "21": (h21_b, h21_y, h21_r),
         "22": (h22_b, h22_y, h22_r), "31": (h31_b, h31_y, h31_r), "32": (h32_b, h32_y, h32_r)}

r_ypx = {"11": (105, 127, 148), "12": (105, 127, 148), "21": (371, 392, 414), "22": (372, 393, 413), "31": (651, 673, 696), "32": (649, 672, 693)}
p_ypx = {"11": (236, 258, 280), "12": (234, 258, 280), "21": (500, 523, 545), "22": (477, 499, 520), "31": (783, 805, 827), "32": (779, 803, 822)}
txt_x = {"1": 240, "2": 613}
side_p_pos = {"11": (350, 116), "12": (712, 100), "21": (350, 385), "22": (722, 378), "31": (348, 680), "32": (725, 658)}
Y_MINOR = [-.8, -.6, -.4, -.2, .2, .4, .6, .8]
# hand-placed count labels under the side histograms: row -> [(x, text)...]
count_lab_y = [318, 585, 865]
count_lab_x = [[(303, 411), (693, 800)], [(306, 411), (693, 800)], [(304, 411), (687, 793)]]

for i in range(3):
    for j in range(2):
        key = f"{i+1}{j+1}"
        ycfg = dict(AXBASE, range=[-1, 1], tickvals=[-1, 0, 1], ticktext=["-1", "0", "1"], minor=minor_ticks(Y_MINOR),
                    showticklabels=(j == 0))
        xa, ya = new_axes(SC_X[j], ROWS[i],
                          dict(AXBASE, range=[-1, 1], tickvals=[-1, -.5, 0, .5, 1], showticklabels=False), ycfg)
        shapes.append(dict(type="line", xref=xa, yref=ya, x0=-1, x1=1, y0=0, y1=0, line=dict(color="#666", width=1, dash="4px,3px")))
        shapes.append(dict(type="line", xref=xa, yref=ya, x0=0, x1=0, y0=-1, y1=1, line=dict(color="#666", width=1, dash="4px,3px")))
        blue, red, yel = scatters[key]
        for s, name, (fc, lc) in ((blue, series_names[0], C_PT[0]), (yel, series_names[2], C_PT[2]), (red, series_names[1], C_PT[1])):
            fig.add_trace(go.Scatter(x=[p[0] for p in s], y=[p[1] for p in s], mode="markers", name=name, xaxis=xa, yaxis=ya, cliponaxis=False,
                                     marker=dict(size=4.2, color=fc, line=dict(width=.6, color=lc))))
        # r / p texts
        tx = txt_x[str(j + 1)]
        for t, yy, c in zip(r_text[key], r_ypx[key], C_TXT):
            txt(tx + (3 if key in ("22", "32") else 0), yy, t, c, 19, SERIF)
        for t, yy, c in zip(p_text[key], p_ypx[key], C_TXT):
            txt(tx + (3 if key in ("22", "32") else 0), yy, t, c, 19, SERIF)
        # side histogram
        hk = "h" + key
        lim, step = side_limits[hk]
        n_st = int(round(lim / step))
        vals = [lim - k * step for k in range(n_st + 1)]
        xa2, ya2 = new_axes(HI_X[i][j], ROWS[i],
                            dict(AXBASE, range=[lim, 0], tickvals=vals, showticklabels=False),
                            dict(AXBASE, range=[-1, 1], side="right", tickvals=[-1, -.5, 0, .5, 1], showticklabels=False))
        lx0, lx1 = count_lab_x[i][j]
        txt(lx0, count_lab_y[i], str(lim), "#111", 18, SANS, 0, "center")
        txt(lx1, count_lab_y[i], "0", "#111", 18, SANS, 0, "center")
        b, y, r = hists[key]
        add_hist(b, y, r, xa2, ya2, True)
        m = side_means[hk]
        fig.add_trace(go.Scatter(x=[lim] * 3, y=m, mode="markers", xaxis=xa2, yaxis=ya2, cliponaxis=False,
                                 marker=dict(symbol="triangle-right", size=5, color=C_TXT, line=dict(width=0))))
        shapes.append(dict(type="line", xref=xa2, yref=ya2, x0=lim, x1=0, y0=side_peak_line, y1=side_peak_line, line=dict(color="#999", width=.7, dash="dot")))
        px_, py_ = side_p_pos[key]
        txt(px_, py_, side_p[key], "#111", 20, SERIF, -90, "center")

# bottom histograms
for j, (tk, data, top, step) in enumerate((("t1", (t1_b, t1_y, t1_r), 70, 10), ("t2", (t2_b, t2_y, t2_r), 50, 5))):
    xa, ya = new_axes(BOT_X[j], BOT_Y,
                      dict(AXBASE, range=list(BOT_RANGE[j]), tickvals=[-1, 0, 1], showticklabels=False),
                      dict(AXBASE, range=[0, top], tickvals=[k * step for k in range(int(top / step) + 1)], showticklabels=False))
    add_hist(*data, xa, ya, False)
    m = top_means[tk]
    fig.add_trace(go.Scatter(x=m, y=[top] * 3, mode="markers", xaxis=xa, yaxis=ya, cliponaxis=False,
                             marker=dict(symbol="triangle-down", size=5, color=C_TXT, line=dict(width=0))))
    pl = top_peak_line[tk]
    shapes.append(dict(type="line", xref=xa, yref=ya, x0=pl, x1=pl, y0=0, y1=top, line=dict(color="#999", width=.7, dash="dot")))

# hand-placed labels
for x, y, s in [(50, 1008, "-1"), (168, 1008, "0"), (273, 1008, "1"), (432, 1008, "-1"), (549, 1008, "0"), (653, 1008, "1")]:
    txt(x, y, s, "#111", 18, SANS, 0, "center")
for x, y, s in [(31, 880, "70"), (35, 980, "0"), (409, 883, "50")]:
    txt(x, y, s, "#111", 18, SANS, 0, "center")
txt(176, 893, "p= 0.01", "#111", 19, SERIF)
txt(568, 892, "p= 3.8 \u00d7 10<sup>\u221212</sup>", "#111", 20, SERIF)
txt(167, 44, col_titles[0], "#111", TITLE_SIZE, SANS, 0, "center")
txt(538, 44, col_titles[1], "#111", TITLE_SIZE, SANS, 0, "center")
for lab, yy in zip(row_labels, (180, 451, 730)):
    txt(10, yy, lab, "#111", TITLE_SIZE, SANS, -90, "center")
txt(10, 933, "Count", "#111", TITLE_SIZE, SANS, -90, "center")
txt(354, 878, "Count", "#111", TITLE_SIZE, SANS, 0, "center")
txt(745, 878, "Count", "#111", TITLE_SIZE, SANS, 0, "center")
txt(168, 1035, "Modulation index texture", "#111", TITLE_SIZE, SANS, 0, "center")
txt(549, 1035, "Modulation index texture", "#111", TITLE_SIZE, SANS, 0, "center")

# legend row
for cx, col, name, tx in ((81, "#23b1f0", series_names[0], 96), (316, "#f4604d", series_names[1], 333), (419, "#fbb62a", series_names[2], 436)):
    shapes.append(dict(type="circle", xref="paper", yref="paper", x0=(cx - 5.5) / W, x1=(cx + 5.5) / W,
                       y0=1 - 15.5 / H, y1=1 - 4.5 / H, fillcolor=col, line=dict(color="#333", width=1)))
    txt(tx, 10, name, "#111", TITLE_SIZE)

layout["annotations"] = annots
layout["shapes"] = shapes
fig.update_layout(**layout)
fig.write_html("out.html", config={"displayModeBar": False}, post_script="document.body.style.margin='0';")
